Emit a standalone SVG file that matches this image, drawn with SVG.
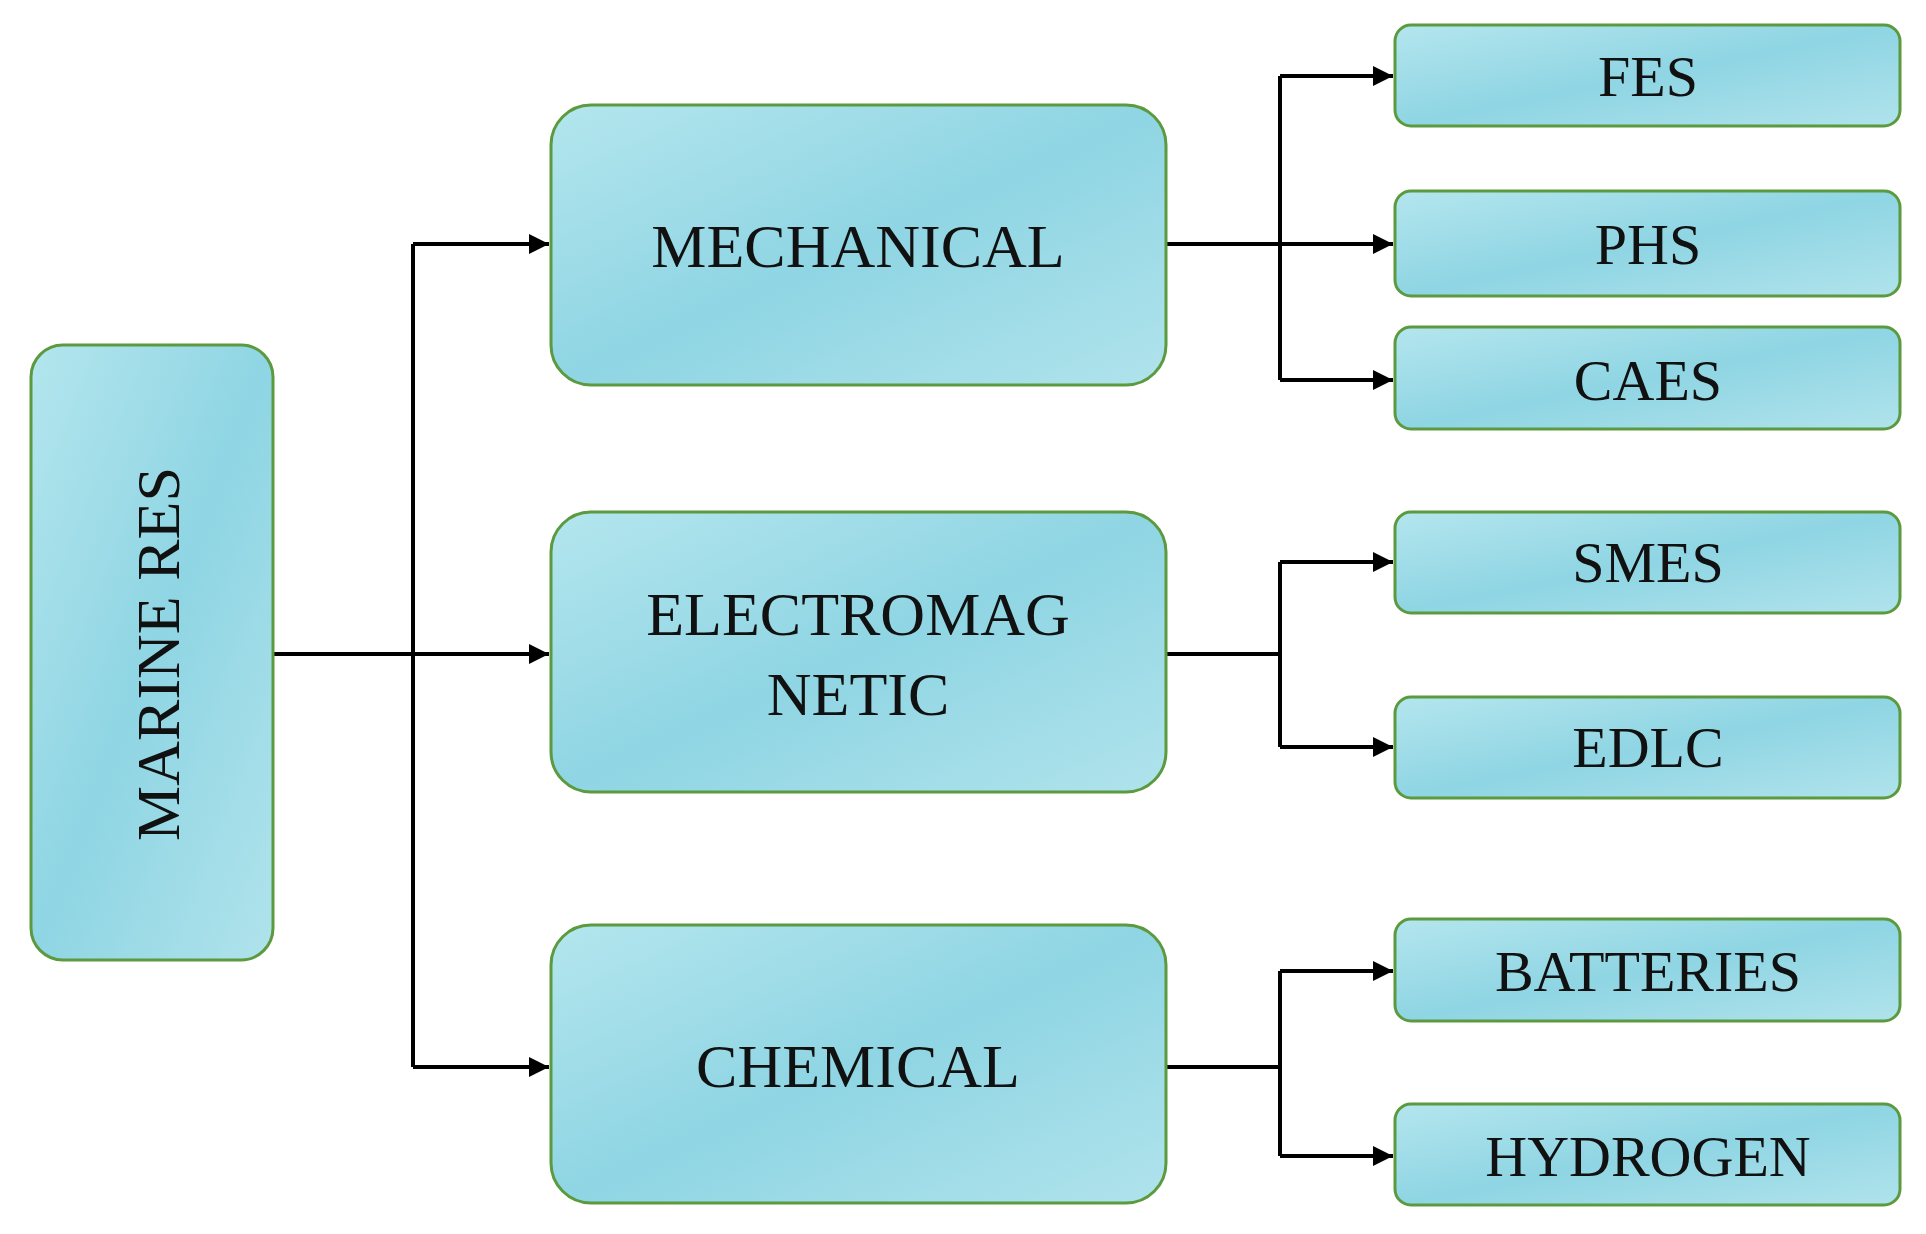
<svg xmlns="http://www.w3.org/2000/svg" width="1926" height="1234" viewBox="0 0 1926 1234">
<defs>
<linearGradient id="g" x1="0" y1="0" x2="1" y2="1">
<stop offset="0" stop-color="#b4e6ee"/><stop offset="0.5" stop-color="#8fd5e3"/><stop offset="1" stop-color="#b0e3ec"/>
</linearGradient>
<marker id="a" viewBox="0 0 10 10" refX="10" refY="5" markerWidth="5" markerHeight="5" orient="auto" markerUnits="strokeWidth"><path d="M0,0L10,5L0,10z" fill="#000"/></marker>
</defs>
<style>
.b{fill:url(#g);stroke:#5b9a3e;stroke-width:3}
.t{font-family:"Liberation Serif",serif;font-size:62px;fill:#111;text-anchor:middle;dominant-baseline:central}
.s{font-size:58px}
.c{fill:none;stroke:#000;stroke-width:4}
.m{marker-end:url(#a)}
</style>
<rect width="1926" height="1234" fill="#fff"/>
<g id="connectors">
<path class="c" d="M273,654H413"/>
<path class="c" d="M413,244V1067"/>
<path class="c m" d="M413,244H549"/>
<path class="c m" d="M413,654H549"/>
<path class="c m" d="M413,1067H549"/>
<path class="c" d="M1166,244H1280M1280,76V380M1166,654H1280M1280,562V747M1166,1067H1280M1280,971V1156"/>
<path class="c m" d="M1280,76H1393"/>
<path class="c m" d="M1280,244H1393"/>
<path class="c m" d="M1280,380H1393"/>
<path class="c m" d="M1280,562H1393"/>
<path class="c m" d="M1280,747H1393"/>
<path class="c m" d="M1280,971H1393"/>
<path class="c m" d="M1280,1156H1393"/>
</g>
<g id="marine"><rect class="b" x="31" y="345" width="242" height="615" rx="32"/><text class="t" transform="translate(158,654) rotate(-90)">MARINE  RES</text></g>
<g id="mechanical"><rect class="b" x="551" y="105" width="615" height="280" rx="40"/><text class="t" x="858" y="246">MECHANICAL</text></g>
<g id="electromagnetic"><rect class="b" x="551" y="512" width="615" height="280" rx="40"/><text class="t" x="858" y="614">ELECTROMAG</text><text class="t" x="858" y="694">NETIC</text></g>
<g id="chemical"><rect class="b" x="551" y="925" width="615" height="278" rx="40"/><text class="t" x="858" y="1066">CHEMICAL</text></g>
<g id="fes"><rect class="b" x="1395" y="25" width="505" height="101" rx="16"/><text class="t s" x="1648" y="76">FES</text></g>
<g id="phs"><rect class="b" x="1395" y="191" width="505" height="105" rx="16"/><text class="t s" x="1648" y="244">PHS</text></g>
<g id="caes"><rect class="b" x="1395" y="327" width="505" height="102" rx="16"/><text class="t s" x="1648" y="380">CAES</text></g>
<g id="smes"><rect class="b" x="1395" y="512" width="505" height="101" rx="16"/><text class="t s" x="1648" y="562">SMES</text></g>
<g id="edlc"><rect class="b" x="1395" y="697" width="505" height="101" rx="16"/><text class="t s" x="1648" y="747">EDLC</text></g>
<g id="batteries"><rect class="b" x="1395" y="919" width="505" height="102" rx="16"/><text class="t s" x="1648" y="971">BATTERIES</text></g>
<g id="hydrogen"><rect class="b" x="1395" y="1104" width="505" height="101" rx="16"/><text class="t s" x="1648" y="1156">HYDROGEN</text></g>
</svg>
